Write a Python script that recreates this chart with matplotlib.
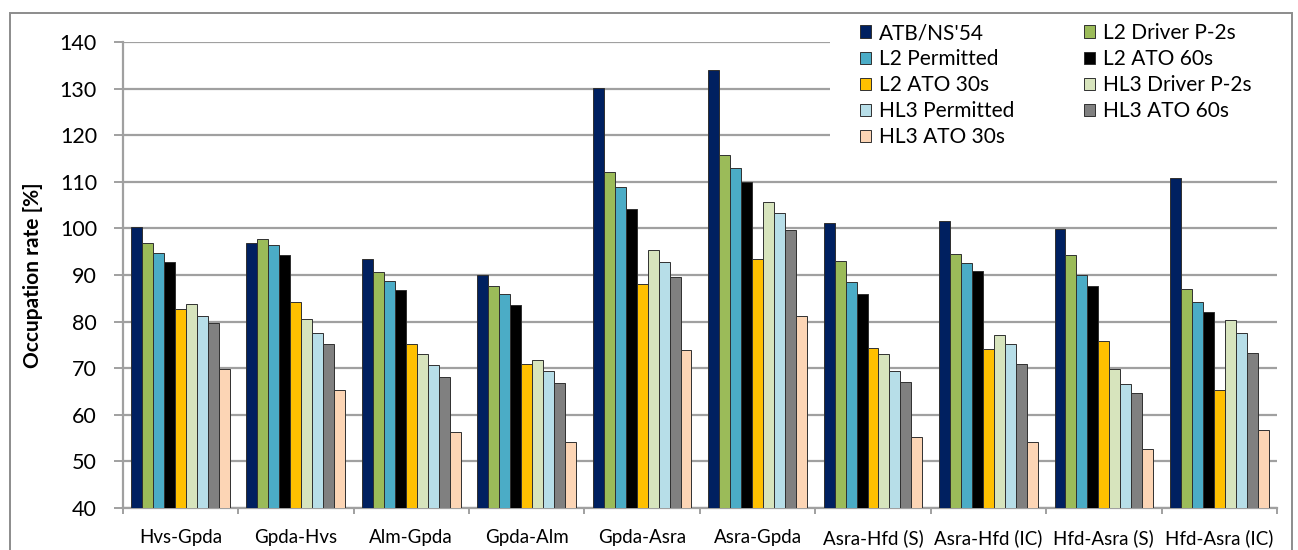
import matplotlib
matplotlib.use("Agg")
import matplotlib.pyplot as plt
from matplotlib.patches import Rectangle
import numpy as np

plt.rcParams['font.family'] = ['Lato', 'DejaVu Sans']

sections = ["Hvs-Gpda", "Gpda-Hvs", "Alm-Gpda", "Gpda-Alm", "Gpda-Asra",
            "Asra-Gpda", "Asra-Hfd (S)", "Asra-Hfd (IC)", "Hfd-Asra (S)", "Hfd-Asra (IC)"]

series_names = ["ATB/NS'54", "L2 Driver P-2s", "L2 Permitted", "L2 ATO 60s", "L2 ATO 30s",
                "HL3 Driver P-2s", "HL3 Permitted", "HL3 ATO 60s", "HL3 ATO 30s"]

atb_ns54 = [100.4, 96.8, 93.4, 89.9, 130.2, 133.9, 101.1, 101.6, 99.9, 110.8]
l2_driver = [96.9, 97.7, 90.7, 87.6, 112.1, 115.7, 93.1, 94.5, 94.3, 87.1]
l2_permitted = [94.7, 96.4, 88.8, 86.0, 108.9, 113.0, 88.6, 92.6, 90.1, 84.2]
l2_ato60 = [92.7, 94.2, 86.8, 83.6, 104.1, 110.0, 86.0, 90.8, 87.7, 82.1]
l2_ato30 = [82.6, 84.1, 75.1, 71.0, 88.1, 93.4, 74.3, 74.1, 75.9, 65.3]
hl3_driver = [83.8, 80.6, 73.0, 71.8, 95.4, 105.6, 73.0, 77.1, 69.8, 80.3]
hl3_permitted = [81.3, 77.6, 70.6, 69.3, 92.7, 103.2, 69.3, 75.1, 66.6, 77.5]
hl3_ato60 = [79.8, 75.2, 68.2, 66.8, 89.6, 99.7, 67.1, 70.8, 64.6, 73.3]
hl3_ato30 = [69.8, 65.3, 56.4, 54.2, 73.8, 81.3, 55.3, 54.2, 52.6, 56.7]

all_series = [atb_ns54, l2_driver, l2_permitted, l2_ato60, l2_ato30,
              hl3_driver, hl3_permitted, hl3_ato60, hl3_ato30]

colors = ["#002060", "#9BBB59", "#4BACC6", "#000000", "#FFC000",
          "#D7E4BD", "#B7DEE8", "#808080", "#FCD5B5"]

W, H = 1298, 550
fig = plt.figure(figsize=(W / 100, H / 100), dpi=100)
ax = fig.add_axes([122.7 / W, (H - 508) / H, (1277 - 122.7) / W, (508 - 42) / H])

x = np.arange(len(sections))
bw = 0.095
bars = []
for i, (vals, col) in enumerate(zip(all_series, colors)):
    offs = (i - 4) * bw
    b = ax.bar(x + offs, np.array(vals) - 40, bw, bottom=40, color=col,
               edgecolor="#303030", linewidth=0.7, zorder=3, label=series_names[i])
    bars.append(b)

ax.set_ylim(40, 140)
ax.set_xlim(-0.5, len(sections) - 0.5)
ax.set_yticks(range(40, 141, 10))
ax.yaxis.grid(True, color="#A0A0A0", linewidth=1.6, zorder=0)
ax.set_axisbelow(True)

for s in ["top", "right"]:
    ax.spines[s].set_visible(False)
for s in ["left", "bottom"]:
    ax.spines[s].set_color("#A0A0A0")
    ax.spines[s].set_linewidth(1.6)

# group boundaries as major ticks, names as minor ticks
ax.set_xticks(np.arange(-0.5, len(sections), 1.0))
ax.set_xticklabels([])
ax.set_xticks(x, minor=True)
ax.set_xticklabels(sections, minor=True, fontsize=13.5)
ax.tick_params(axis="x", which="major", length=4.5, width=1.4, color="#A0A0A0")
ax.tick_params(axis="x", which="minor", length=0, pad=15)
ax.tick_params(axis="y", length=6.5, width=1.4, color="#A0A0A0", pad=12, labelsize=15.5)

ax.set_ylabel("Occupation rate [%]", fontsize=15, fontweight="bold")
ax.yaxis.set_label_coords(-0.069, 0.5)

# white area behind the legend hides the gridlines
ax.add_patch(Rectangle((830 / W, 1 - 155 / H), (1290 - 830) / W, 128 / H,
                       transform=fig.transFigure, facecolor="white",
                       edgecolor="none", zorder=1))

order = [0, 2, 4, 6, 8, 1, 3, 5, 7]
leg = ax.legend([bars[k] for k in order], [series_names[k] for k in order],
                ncol=2, loc="upper left", bbox_to_anchor=(860 / W, 1 - 23 / H),
                bbox_transform=fig.transFigure, fontsize=15, frameon=False,
                handlelength=0.53, handleheight=0.53, handletextpad=0.4,
                labelspacing=0.29, columnspacing=3.3, borderpad=0, borderaxespad=0)
leg.set_zorder(5)

fig.patches.append(Rectangle((10 / W, -0.02), (1291.5 - 10) / W, 1 - 12.7 / H + 0.02,
                             transform=fig.transFigure, fill=False,
                             edgecolor="#8C8C8C", linewidth=1.4))

fig.savefig("out.png", dpi=100)
